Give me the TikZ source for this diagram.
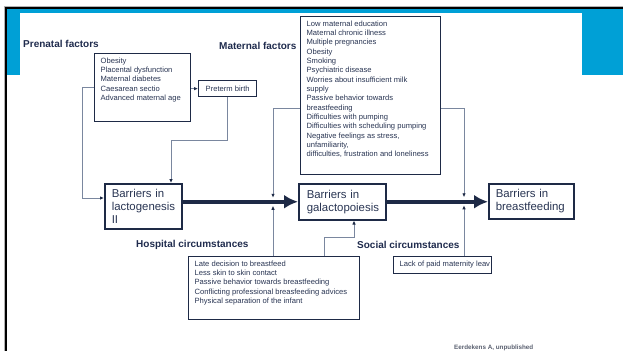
\documentclass[tikz,border=0pt]{standalone}
\usepackage{fontspec}
\setmainfont{Liberation Sans}
\usetikzlibrary{arrows.meta,calc}

\definecolor{brandblue}{HTML}{00A0D6}
\definecolor{boxline}{HTML}{1E2A46}
\definecolor{boxtext}{HTML}{283452}
\definecolor{linkline}{HTML}{7A879F}
\definecolor{headtext}{HTML}{1F2B4D}
\definecolor{notetext}{HTML}{5A6070}

\newcommand{\itemsfont}{\fontsize{7.6}{9.33}\selectfont}
\newcommand{\barrierfont}{\fontsize{11.4}{13}\selectfont}
\newcommand{\headfont}{\fontsize{10}{12}\selectfont\bfseries}

\tikzset{
  listbox/.style={draw=boxline, line width=1.3pt, anchor=north west, inner xsep=6pt, inner ysep=4pt, font=\itemsfont, text=boxtext},
  barrier/.style={draw=boxline, line width=1.5pt, anchor=north west, align=left, font=\barrierfont, text=boxtext, inner xsep=7pt},
  heading/.style={anchor=base west, font=\headfont, text=headtext, inner sep=0pt},
  link/.style={draw=linkline, line width=0.8pt, -{Latex[length=4pt,width=3.5pt,color=boxline]}},
  flow/.style={draw=boxline, line width=4pt, -{Latex[length=14pt,width=14pt]}}
}

\begin{document}
\begin{tikzpicture}[x=1pt,y=-1pt]
  \useasboundingbox (0,0) rectangle (623,351);
  % slide frame
  \fill[brandblue] (6.5,9) rectangle (623,12.7);
  \fill[brandblue] (6.5,9) rectangle (20,75);
  \fill[brandblue] (582,9) rectangle (623,75);
  \draw[gray!60, line width=0.8pt] (3.5,6.5) -- (623,6.5);
  \draw[gray!60, line width=0.8pt] (4,6.5) -- (4,351);
  \draw[black, line width=1.8pt] (4.5,8) -- (623,8);
  \draw[black, line width=1.8pt] (5.8,7) -- (5.8,351);

  % factor boxes
  \node[heading] (prenatalhead) at (23,47.5) {Prenatal factors};
  \node[listbox, minimum width=96pt, minimum height=68pt] (prenatal) at (94,53)
    {\parbox[t][60pt][t]{84pt}{\raggedright Obesity\\ Placental dysfunction\\ Maternal diabetes\\ Caesarean sectio\\ Advanced maternal age}};
  \node[listbox, inner sep=0pt, minimum width=58pt, minimum height=16pt] (preterm) at (198,80) {Preterm birth};

  \node[heading] (maternalhead) at (219,49) {Maternal factors};
  \node[listbox, minimum width=140pt, minimum height=158pt] (maternal) at (300,16)
    {\parbox[t][150pt][t]{128pt}{\raggedright Low maternal education\\ Maternal chronic illness\\ Multiple pregnancies\\ Obesity\\ Smoking\\ Psychiatric disease\\ Worries about insufficient milk\\ supply\\ Passive behavior towards\\ breastfeeding\\ Difficulties with pumping\\ Difficulties with scheduling pumping\\ Negative feelings as stress,\\ unfamiliarity,\\ difficulties, frustration and loneliness}};

  % barriers
  \node[barrier, text width=63pt, minimum height=45pt] (lacto) at (104,183) {Barriers in\\ lactogenesis\\ II};
  \node[barrier, text width=71pt, inner xsep=8pt, minimum height=36pt] (galacto) at (298,183) {Barriers in\\ galactopoiesis};
  \node[barrier, text width=71pt, minimum height=35pt] (breast) at (488,183) {Barriers in\\ breastfeeding};

  % circumstances
  \node[heading] (hospitalhead) at (136,247.5) {Hospital circumstances};
  \node[listbox, minimum width=171pt, minimum height=63pt] (hospital) at (188,256)
    {\parbox[t][55pt][t]{159pt}{\raggedright Late decision to breastfeed\\ Less skin to skin contact\\ Passive behavior towards breastfeeding\\ Conflicting professional breasfeeding advices\\ Physical separation of the infant}};
  \node[heading] (socialhead) at (357,248) {Social circumstances};
  \node[listbox, minimum width=98pt, minimum height=17pt] (social) at (393,256)
    {\parbox[t][9pt][t]{86pt}{\makebox[86pt][l]{Lack of paid maternity leav}}};

  \node[anchor=base west, font=\fontsize{6.3}{7}\selectfont\bfseries, text=notetext, inner sep=0pt] (source) at (454,349) {Eerdekens A, unpublished};

  % flow
  \coordinate (jgal) at ([xshift=-25pt]galacto.west);
  \coordinate (jbf) at ([xshift=-24pt]breast.west);
  \draw[flow] (lacto.east |- galacto.west) -- (galacto.west);
  \draw[flow] (galacto.east) -- (breast.west |- galacto.east);

  % links
  \draw[link] (prenatal.west) -- ++(-12,0) |- ([yshift=-15pt]lacto.north west);
  \draw[link] (prenatal.east |- preterm.west) -- (preterm.west);
  \draw[link] (preterm.south) -- ++(0,43) -| ([xshift=67pt]lacto.north west);
  \draw[link] ([yshift=-92pt]maternal.north west) -| ([yshift=4pt]jgal);
  \draw[link] ([yshift=-92pt]maternal.north east) -| ([yshift=4pt]jbf);
  \draw[link] (hospital.north -| jgal) -- ([yshift=-4pt]jgal);
  \draw[link] ([xshift=136pt]hospital.north west) -- ++(0,-19) -| ([xshift=56pt]galacto.south west);
  \draw[link] (social.north -| jbf) -- ([yshift=-4pt]jbf);
\end{tikzpicture}
\end{document}
